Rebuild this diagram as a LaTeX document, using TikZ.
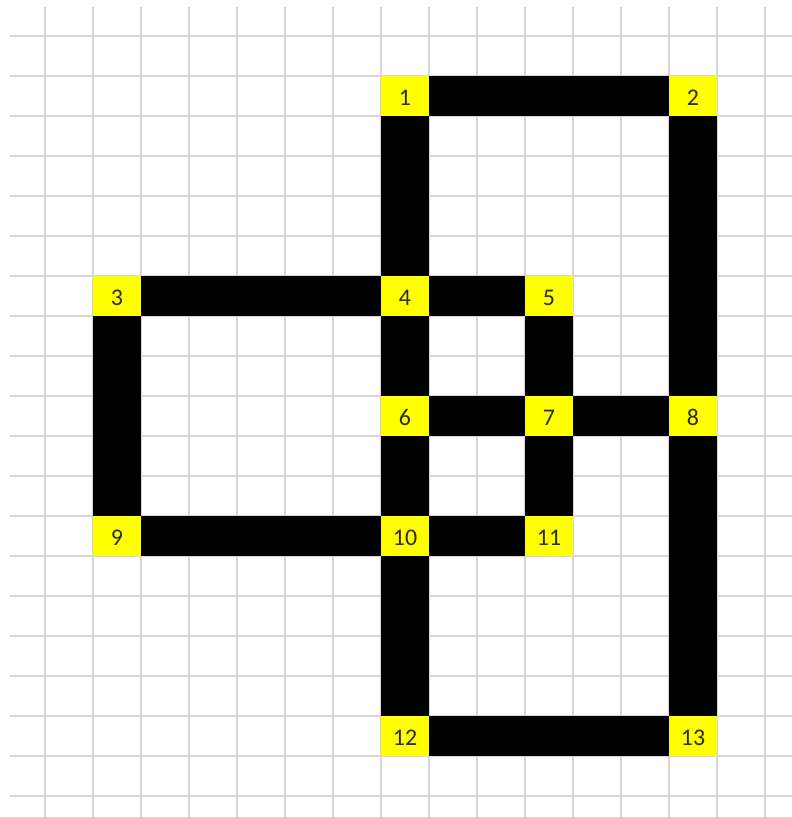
\documentclass[tikz,border=0pt]{standalone}
\usepackage{fontspec}
\setmainfont{Carlito}
\definecolor{gridgray}{RGB}{214,214,214}
\definecolor{cellyellow}{RGB}{255,255,0}
\definecolor{digitdark}{RGB}{45,45,30}

\begin{document}
\begin{tikzpicture}[x=1.2cm,y=-1cm,
  gridline/.style={draw=gridgray,line width=1pt},
  cell/.style={fill=cellyellow,minimum width=1.2cm,minimum height=1cm,
    inner sep=0pt,outer sep=0pt,text=digitdark,text height=13.5pt,text depth=0pt,
    font=\fontsize{17}{19}\selectfont},
  hbar/.style={line width=1cm},
  vbar/.style={line width=1.2cm}]
\useasboundingbox (-0.9375,-0.9) rectangle (15.5625,19.525);
\foreach \r in {0,...,19}
  \draw[gridline] (-0.73,\r) -- (15.5625,\r);
\foreach \c in {0,...,15}
  \draw[gridline] (\c,-0.725) -- (\c,19.525);
\node[cell] (n1) at (7.5,1.5) {1};
\node[cell] (n2) at (13.5,1.5) {2};
\node[cell] (n3) at (1.5,6.5) {3};
\node[cell] (n4) at (7.5,6.5) {4};
\node[cell] (n5) at (10.5,6.5) {5};
\node[cell] (n6) at (7.5,9.5) {6};
\node[cell] (n7) at (10.5,9.5) {7};
\node[cell] (n8) at (13.5,9.5) {8};
\node[cell] (n9) at (1.5,12.5) {9};
\node[cell] (n10) at (7.5,12.5) {10};
\node[cell] (n11) at (10.5,12.5) {11};
\node[cell] (n12) at (7.5,17.5) {12};
\node[cell] (n13) at (13.5,17.5) {13};
\draw[hbar] (n1) -- (n2);
\draw[hbar] (n3) -- (n4);
\draw[hbar] (n4) -- (n5);
\draw[hbar] (n6) -- (n7);
\draw[hbar] (n7) -- (n8);
\draw[hbar] (n9) -- (n10);
\draw[hbar] (n10) -- (n11);
\draw[hbar] (n12) -- (n13);
\draw[vbar] (n1) -- (n4);
\draw[vbar] (n4) -- (n6);
\draw[vbar] (n6) -- (n10);
\draw[vbar] (n10) -- (n12);
\draw[vbar] (n3) -- (n9);
\draw[vbar] (n5) -- (n7);
\draw[vbar] (n7) -- (n11);
\draw[vbar] (n2) -- (n8);
\draw[vbar] (n8) -- (n13);
\end{tikzpicture}
\end{document}
